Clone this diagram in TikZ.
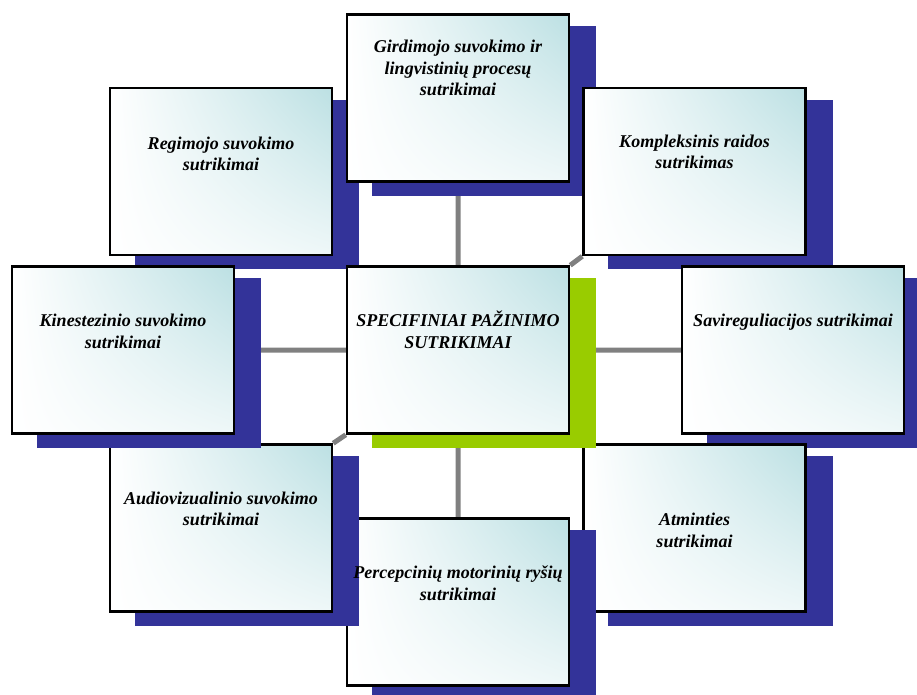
\documentclass[tikz,border=0pt]{standalone}
\usepackage{fontspec}
\setmainfont{Liberation Serif}
\usetikzlibrary{shadows,shadings,backgrounds}
\definecolor{boxnavy}{HTML}{333399}
\definecolor{boxgreen}{HTML}{99CC00}
\definecolor{boxteal}{HTML}{BCE0E3}
\definecolor{linkgray}{HTML}{808080}
\begin{document}
\begin{tikzpicture}[x=1pt,y=-1pt,
    box/.style={draw=black,line width=2.5pt,minimum width=222pt,minimum height=167pt,inner sep=0pt,
      upper left=white,upper right=boxteal,lower left=white,lower right=boxteal!25,
      general shadow={fill=#1,draw=#1,shadow xshift=26pt,shadow yshift=-13pt}},
    box/.default=boxnavy,
    txt/.style={font=\fontsize{18}{21.5}\selectfont\bfseries\itshape,align=center,inner sep=0pt},
    link/.style={draw=linkgray,line width=5pt}]
  \useasboundingbox (0,0) rectangle (917,695);
  % outer boxes, clockwise from the upper left
  \node[box] (reg) at (221,171.5) {};
  \node[box] (gird) at (458,98) {};
  \node[box] (komp) at (694.5,171.5) {};
  \node[box] (savi) at (793,350) {};
  \node[box] (atm) at (694.5,528) {};
  \node[box] (perc) at (458,602) {};
  \node[box] (audio) at (221,528) {};
  \node[box] (kin) at (123,350) {};
  \node[box=boxgreen] (spec) at (458,350) {};
  % texts
  \node[txt] (reg-t) at ([yshift=-67pt]reg.north) {Regimojo suvokimo\\sutrikimai};
  \node[txt] (gird-t) at ([yshift=-55pt]gird.north) {Girdimojo suvokimo ir\\lingvistinių procesų\\sutrikimai};
  \node[txt] (komp-t) at ([yshift=-65pt]komp.north) {Kompleksinis raidos\\sutrikimas};
  \node[txt] (savi-t) at ([yshift=-57pt]savi.north) {Savireguliacijos sutrikimai};
  \node[txt] (atm-t) at ([yshift=-87pt]atm.north) {Atminties\\sutrikimai};
  \node[txt] (perc-t) at ([yshift=-66pt]perc.north) {Percepcinių motorinių ryšių\\sutrikimai};
  \node[txt] (audio-t) at ([yshift=-65.5pt]audio.north) {Audiovizualinio suvokimo\\sutrikimai};
  \node[txt] (kin-t) at ([yshift=-66pt]kin.north) {Kinestezinio suvokimo\\sutrikimai};
  \node[txt] (spec-t) at ([yshift=-64.5pt]spec.north) {SPECIFINIAI PAŽINIMO\\SUTRIKIMAI};
  % links behind everything
  \begin{pgfonlayer}{background}
    \draw[link] (spec.north)--(gird.south) (spec.south)--(perc.north)
      (spec.west)--(kin.east) (spec.east)--(savi.west)
      (spec.north east)--(komp.south west) (spec.north west)--(reg.south east)
      (spec.south east)--(atm.north west) (spec.south west)--(audio.north east);
  \end{pgfonlayer}
\end{tikzpicture}
\end{document}
